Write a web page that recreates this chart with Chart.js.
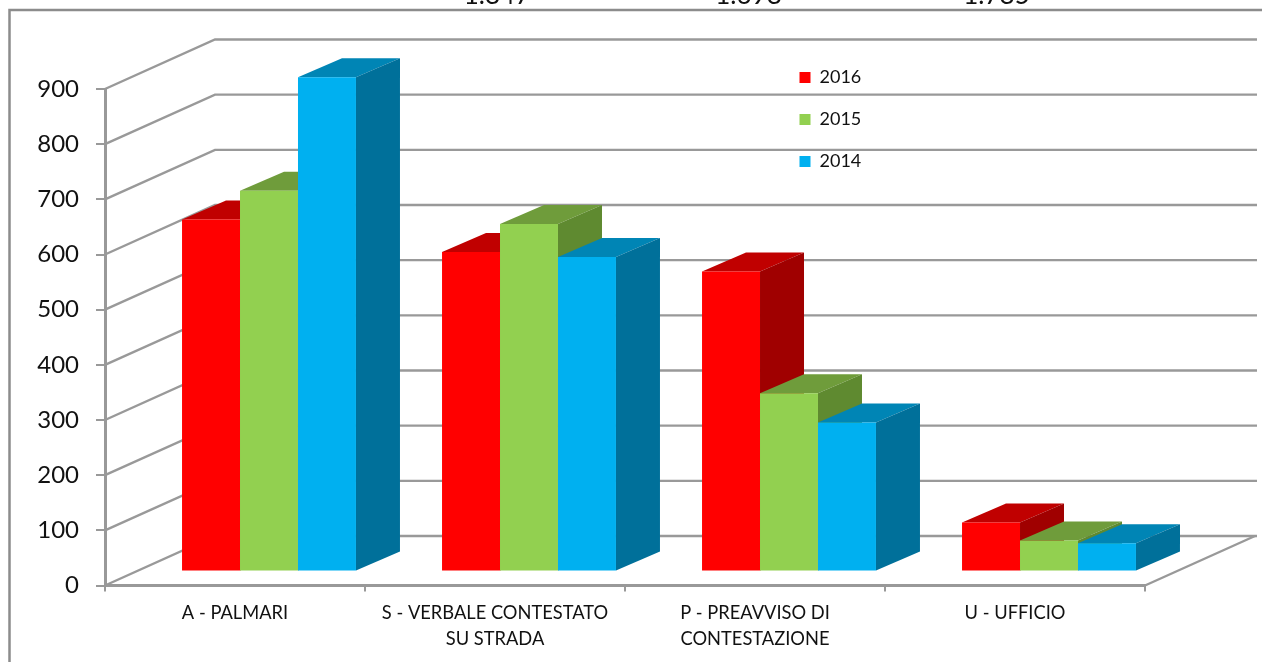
<!DOCTYPE html>
<html><head><meta charset="utf-8">
<style>html,body{margin:0;padding:0;background:#fff;overflow:hidden}canvas{display:block}</style>
<script src="https://cdn.jsdelivr.net/npm/chart.js@4"></script>
</head><body><canvas id="c" width="1262" height="662"></canvas>
<script>
const categories = [['A - PALMARI'], ['S - VERBALE CONTESTATO', 'SU STRADA'], ['P - PREAVVISO DI', 'CONTESTAZIONE'], ['U - UFFICIO']];
const values2016 = [638, 579, 544, 89];
const values2015 = [690, 630, 323, 56];
const values2014 = [896, 570, 270, 51];
const seriesNames = ['2016', '2015', '2014'];
const yTicks = [0, 100, 200, 300, 400, 500, 600, 700, 800, 900];
const topTotals = ['1.847', '1.698', '1.785'];

const faceColors = [
  {front:'#FF0000', top:'#C00000', side:'#A00000'},
  {front:'#92D050', top:'#6F9C3B', side:'#5F8A30'},
  {front:'#00B0F0', top:'#0085B5', side:'#00709A'}
];
const GRID = '#999999';
const BAR_SHIFT = {x:34, y:-14};
const DEPTH = {x:44, y:-19};
const WALL = {x:110, y:-49.5};
const FONT = 'Lato, Carlito, sans-serif';

const scene = {
  id:'scene',
  beforeDraw(chart){
    const c = chart.ctx; c.save();
    c.strokeStyle = '#8C8C8C'; c.lineWidth = 2.5;
    c.beginPath(); c.moveTo(9.5,662); c.lineTo(9.5,10); c.lineTo(1262,10); c.stroke();
    c.fillStyle = '#111'; c.font = '26px '+FONT; c.textAlign='center'; c.textBaseline='alphabetic';
    const xs = [497, 748.5, 996.5];
    topTotals.forEach((t,i)=>c.fillText(t, xs[i], 3.5));
    c.restore();
  },
  beforeDatasetsDraw(chart){
    const c = chart.ctx, x = chart.scales.x, y = chart.scales.y;
    c.save();
    c.strokeStyle = GRID; c.lineWidth = 2.4;
    yTicks.forEach(v=>{
      const py = y.getPixelForValue(v);
      c.beginPath();
      c.moveTo(x.left, py);
      c.lineTo(x.left+WALL.x, py+WALL.y);
      c.lineTo(x.right+WALL.x+2, py+WALL.y);
      c.stroke();
    });
    const by = y.getPixelForValue(0);
    c.beginPath(); c.moveTo(x.right, by); c.lineTo(x.right+WALL.x, by+WALL.y); c.stroke();
    c.restore();
  },
  // Painted left to right in afterDatasetsDraw, so each bar overlaps the faces of its left neighbour.
  beforeDatasetDraw(){ return false; },
  afterDatasetsDraw(chart){
    const c = chart.ctx;
    c.save();
    c.translate(BAR_SHIFT.x, BAR_SHIFT.y);
    chart.getSortedVisibleDatasetMetas().forEach(meta=>{
      const f = faceColors[meta.index];
      meta.data.forEach(b=>{
        const l = b.x-b.width/2, r = b.x+b.width/2, t = b.y, bt = b.base;
        c.fillStyle = f.top;
        c.beginPath(); c.moveTo(l,t); c.lineTo(l+DEPTH.x,t+DEPTH.y); c.lineTo(r+DEPTH.x,t+DEPTH.y); c.lineTo(r,t); c.closePath(); c.fill();
        c.fillStyle = f.side;
        c.beginPath(); c.moveTo(r,t); c.lineTo(r+DEPTH.x,t+DEPTH.y); c.lineTo(r+DEPTH.x,bt+DEPTH.y); c.lineTo(r,bt); c.closePath(); c.fill();
      });
      meta.controller.draw();
    });
    c.restore();
  },
  afterLayout(chart){
    const lg = chart.legend;
    if(lg){ lg.left = 775.5; lg.top = 44.5; lg.right = lg.left+lg.width; lg.bottom = lg.top+lg.height; lg.adjustHitBoxes(); }
  }
};

new Chart(document.getElementById('c'), {
  type:'bar',
  data:{
    labels:categories,
    datasets:[
      {label:seriesNames[0], data:values2016, backgroundColor:faceColors[0].front, clip:false},
      {label:seriesNames[1], data:values2015, backgroundColor:faceColors[1].front, clip:false},
      {label:seriesNames[2], data:values2014, backgroundColor:faceColors[2].front, clip:false}
    ]
  },
  plugins:[scene],
  options:{
    responsive:false, animation:false,
    layout:{padding:{left:0,right:117,top:89,bottom:0}},
    datasets:{bar:{categoryPercentage:0.669, barPercentage:1}},
    plugins:{
      tooltip:{enabled:false},
      legend:{display:true, position:'chartArea', align:'start',
        labels:{boxWidth:11, boxHeight:11, padding:24, color:'#111', font:{family:FONT,size:18}}}
    },
    scales:{
      x:{
        afterFit(s){ s.height = 76.5; },
        grid:{offset:true, drawOnChartArea:false, drawTicks:true, tickLength:6, color:GRID, lineWidth:2},
        border:{display:true, color:GRID, width:3},
        ticks:{color:'#111', padding:9, maxRotation:0, autoSkip:false, font:{family:FONT,size:18.3,lineHeight:1.42}}
      },
      y:{
        min:0, max:900,
        afterFit(s){ s.width = 105; },
        afterBuildTicks(s){ s.ticks = yTicks.map(v=>({value:v})); },
        grid:{drawOnChartArea:false, drawTicks:true, tickLength:9, color:GRID, lineWidth:2},
        border:{display:true, color:GRID, width:3},
        ticks:{color:'#111', padding:17, font:{family:FONT,size:24}}
      }
    }
  }
});
</script></body></html>
